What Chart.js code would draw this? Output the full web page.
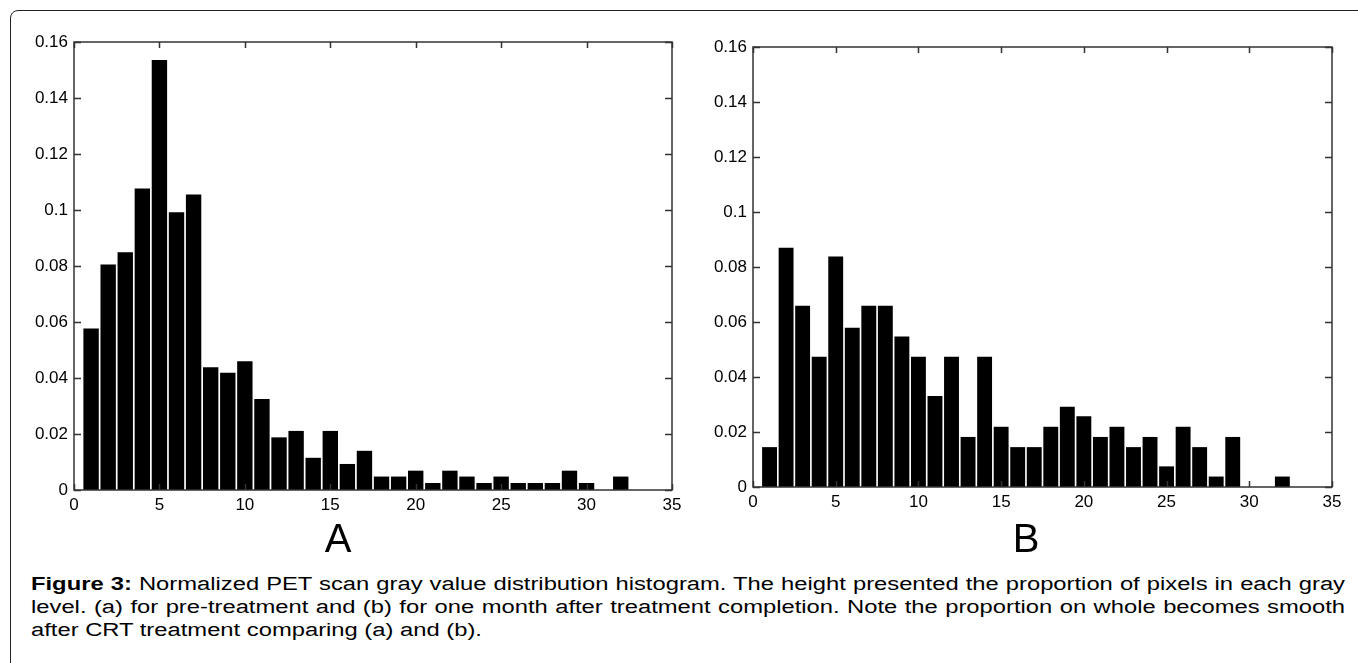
<!DOCTYPE html>
<html>
<head>
<meta charset="utf-8">
<script src="https://cdn.jsdelivr.net/npm/chart.js@4"></script>
<style>
  body { margin: 0; background: #fff; width: 1358px; height: 663px; overflow: hidden; position: relative; font-family: "Liberation Sans", Arial, sans-serif; color: #000; }
  .frame { position: absolute; left: 10px; top: 10px; width: 1360px; height: 700px; border: 1.5px solid #222; border-radius: 8px; box-sizing: border-box; }
  canvas { position: absolute; top: 0; }
  .panel { position: absolute; top: 518px; width: 100px; text-align: center; font-size: 40px; line-height: 40px; }
  .caption { position: absolute; left: 31px; top: 573px; transform-origin: 0 0; transform: scaleX(1.3206); font-size: 18px; line-height: 23px; }
  .caption div { width: 995px; white-space: nowrap; }
  .caption .j { text-align: justify; text-align-last: justify; }
</style>
</head>
<body>
<div class="frame"></div>
<canvas id="chartA" width="700" height="530" style="left:0px"></canvas>
<canvas id="chartB" width="678" height="530" style="left:680px"></canvas>
<div class="panel" style="left:288px">A</div>
<div class="panel" style="left:976px">B</div>
<div class="caption">
  <div class="j"><b>Figure 3:</b> Normalized PET scan gray value distribution histogram. The height presented the proportion of pixels in each gray</div>
  <div class="j">level. (a) for pre-treatment and (b) for one month after treatment completion. Note the proportion on whole becomes smooth</div>
  <div>after CRT treatment comparing (a) and (b).</div>
</div>
<script>
// gray levels (bin centres)
const bins = [1, 2, 3, 4, 5, 6, 7, 8, 9, 10, 11, 12, 13, 14, 15, 16,
               17, 18, 19, 20, 21, 22, 23, 24, 25, 26, 27, 28, 29, 30, 31, 32];

// (a) pre-treatment
const preTreatment = [0.0577, 0.0805, 0.0849, 0.1077, 0.1536, 0.0992, 0.1055, 0.0438,
                      0.0419, 0.0460, 0.0325, 0.0188, 0.0211, 0.0115, 0.0211, 0.0093,
                      0.0140, 0.0048, 0.0048, 0.0069, 0.0025, 0.0069, 0.0048, 0.0025,
                      0.0048, 0.0025, 0.0025, 0.0025, 0.0069, 0.0025, 0, 0.0048];

// (b) one month after treatment
const postTreatment = [0.0145, 0.0870, 0.0659, 0.0474, 0.0838, 0.0579, 0.0659, 0.0659,
                       0.0547, 0.0474, 0.0331, 0.0474, 0.0182, 0.0474, 0.0219, 0.0145,
                       0.0145, 0.0219, 0.0292, 0.0257, 0.0182, 0.0219, 0.0145, 0.0182,
                       0.0075, 0.0219, 0.0145, 0.0038, 0.0182, 0, 0, 0.0038];

const xTicks = [0, 35, 5];      // min, max, step
const yTicks = [0, 0.16, 0.02];

// matlab style box with inward ticks on all four sides
const boxTicks = {
    id: 'boxTicks',
    afterDraw(chart) {
        const { ctx, chartArea: a, scales: { x, y } } = chart;
        ctx.save();
        ctx.strokeStyle = '#333';
        ctx.lineWidth = 1.5;
        ctx.strokeRect(a.left, a.top, a.right - a.left, a.bottom - a.top);
        ctx.beginPath();
        x.ticks.forEach(t => {
            const px = Math.round(x.getPixelForValue(t.value)) + 0.5;
            ctx.moveTo(px, a.bottom); ctx.lineTo(px, a.bottom - 6);
            ctx.moveTo(px, a.top); ctx.lineTo(px, a.top + 6);
        });
        y.ticks.forEach(t => {
            const py = Math.round(y.getPixelForValue(t.value)) + 0.5;
            ctx.moveTo(a.left, py); ctx.lineTo(a.left + 7, py);
            ctx.moveTo(a.right, py); ctx.lineTo(a.right - 7, py);
        });
        ctx.stroke();
        ctx.restore();
    }
};

const tickFont = { family: '"Liberation Sans", Arial, sans-serif', size: 17 };

const makeChart = (id, values, yWidth, padding) => {
    const ctx = document.getElementById(id).getContext('2d');
    return new Chart(ctx, {
        type: 'bar',
        data: {
            datasets: [{
                data: bins.map((b, i) => ({ x: b, y: values[i] })),
                backgroundColor: '#000',
                borderWidth: 0,
                barPercentage: 0.9,
                categoryPercentage: 1
            }]
        },
        options: {
            responsive: false,
            animation: false,
            layout: { padding: padding },
            plugins: { legend: { display: false }, tooltip: { enabled: false } },
            scales: {
                x: {
                    type: 'linear',
                    min: xTicks[0],
                    max: xTicks[1],
                    offset: false,
                    grid: { display: false, drawTicks: false },
                    border: { display: false },
                    ticks: { stepSize: xTicks[2], color: '#000', font: tickFont, padding: 5, maxRotation: 0, autoSkip: false },
                    afterFit: s => { s.height = 30; }
                },
                y: {
                    min: yTicks[0],
                    max: yTicks[1],
                    grid: { display: false, drawTicks: false },
                    border: { display: false },
                    ticks: {
                        stepSize: yTicks[2],
                        color: '#000',
                        font: tickFont,
                        padding: 6,
                        callback: v => String(+v.toFixed(2))
                    },
                    afterFit: s => { s.width = yWidth; }
                }
            }
        },
        plugins: [boxTicks]
    });
};

makeChart('chartA', preTreatment, 74, { left: 0, right: 28, top: 42, bottom: 10 });
makeChart('chartB', postTreatment, 73, { left: 0, right: 26, top: 47, bottom: 13 });
</script>
</body>
</html>
